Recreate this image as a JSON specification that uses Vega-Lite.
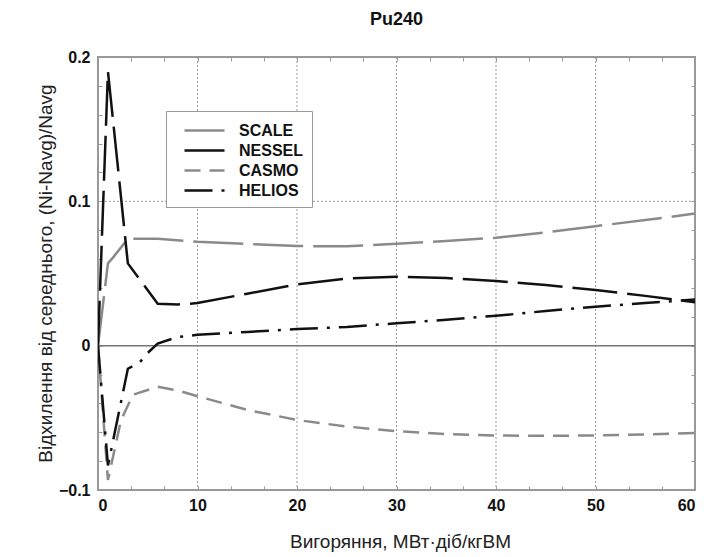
{
  "$schema": "https://vega.github.io/schema/vega-lite/v6.json",
  "width": 597,
  "height": 433,
  "autosize": {"type": "none"},
  "padding": {"left": 98, "top": 57, "right": 11, "bottom": 67},
  "background": "white",
  "title": {"text": "Pu240", "frame": "group", "anchor": "middle", "fontSize": 18, "fontWeight": "bold", "font": "Liberation Sans", "color": "#111", "offset": 20},
  "config": {
    "view": {"stroke": "#999", "strokeWidth": 2},
    "font": "Liberation Sans"
  },
  "datasets": {
    "curves": [
      {"series": "SCALE", "x": 0, "y": 0},
      {"series": "SCALE", "x": 1, "y": 0.057},
      {"series": "SCALE", "x": 1.5, "y": 0.061},
      {"series": "SCALE", "x": 3, "y": 0.074},
      {"series": "SCALE", "x": 6, "y": 0.074},
      {"series": "SCALE", "x": 10, "y": 0.072},
      {"series": "SCALE", "x": 15, "y": 0.0705},
      {"series": "SCALE", "x": 20, "y": 0.069},
      {"series": "SCALE", "x": 25, "y": 0.0688},
      {"series": "SCALE", "x": 30, "y": 0.0706},
      {"series": "SCALE", "x": 35, "y": 0.0725},
      {"series": "SCALE", "x": 40, "y": 0.0748},
      {"series": "SCALE", "x": 45, "y": 0.0785},
      {"series": "SCALE", "x": 50, "y": 0.0828},
      {"series": "SCALE", "x": 55, "y": 0.087},
      {"series": "SCALE", "x": 60, "y": 0.0915},
      {"series": "NESSEL", "x": 0, "y": 0},
      {"series": "NESSEL", "x": 1, "y": 0.19},
      {"series": "NESSEL", "x": 3, "y": 0.057},
      {"series": "NESSEL", "x": 6, "y": 0.029},
      {"series": "NESSEL", "x": 8, "y": 0.0285},
      {"series": "NESSEL", "x": 10, "y": 0.0295},
      {"series": "NESSEL", "x": 15, "y": 0.036},
      {"series": "NESSEL", "x": 20, "y": 0.0425},
      {"series": "NESSEL", "x": 25, "y": 0.0465},
      {"series": "NESSEL", "x": 30, "y": 0.0478},
      {"series": "NESSEL", "x": 35, "y": 0.0468},
      {"series": "NESSEL", "x": 40, "y": 0.0448},
      {"series": "NESSEL", "x": 45, "y": 0.042},
      {"series": "NESSEL", "x": 50, "y": 0.0385},
      {"series": "NESSEL", "x": 55, "y": 0.0345},
      {"series": "NESSEL", "x": 60, "y": 0.03},
      {"series": "CASMO", "x": 0, "y": 0},
      {"series": "CASMO", "x": 1, "y": -0.093},
      {"series": "CASMO", "x": 2.3, "y": -0.052},
      {"series": "CASMO", "x": 3.5, "y": -0.034},
      {"series": "CASMO", "x": 6, "y": -0.0285},
      {"series": "CASMO", "x": 8, "y": -0.031},
      {"series": "CASMO", "x": 10, "y": -0.035},
      {"series": "CASMO", "x": 15, "y": -0.0445},
      {"series": "CASMO", "x": 20, "y": -0.0515},
      {"series": "CASMO", "x": 25, "y": -0.056},
      {"series": "CASMO", "x": 30, "y": -0.0593},
      {"series": "CASMO", "x": 35, "y": -0.0612},
      {"series": "CASMO", "x": 40, "y": -0.0622},
      {"series": "CASMO", "x": 45, "y": -0.0625},
      {"series": "CASMO", "x": 50, "y": -0.0622},
      {"series": "CASMO", "x": 55, "y": -0.0615},
      {"series": "CASMO", "x": 60, "y": -0.0605},
      {"series": "HELIOS", "x": 0, "y": 0},
      {"series": "HELIOS", "x": 1, "y": -0.083},
      {"series": "HELIOS", "x": 3, "y": -0.016},
      {"series": "HELIOS", "x": 4.2, "y": -0.0115},
      {"series": "HELIOS", "x": 5, "y": -0.005},
      {"series": "HELIOS", "x": 6, "y": 0.0015},
      {"series": "HELIOS", "x": 8, "y": 0.006},
      {"series": "HELIOS", "x": 10, "y": 0.0075},
      {"series": "HELIOS", "x": 15, "y": 0.0095},
      {"series": "HELIOS", "x": 20, "y": 0.0115},
      {"series": "HELIOS", "x": 25, "y": 0.013},
      {"series": "HELIOS", "x": 30, "y": 0.0155},
      {"series": "HELIOS", "x": 35, "y": 0.018},
      {"series": "HELIOS", "x": 40, "y": 0.0207},
      {"series": "HELIOS", "x": 45, "y": 0.024},
      {"series": "HELIOS", "x": 50, "y": 0.027},
      {"series": "HELIOS", "x": 55, "y": 0.0295},
      {"series": "HELIOS", "x": 60, "y": 0.032}
    ]
  },
  "resolve": {"axis": {"x": "independent", "y": "independent"}},
  "layer": [
    {
      "data": {"values": [{"gx": 10}, {"gx": 20}, {"gx": 30}, {"gx": 40}, {"gx": 50}]},
      "mark": {"type": "rule", "color": "#999", "strokeWidth": 1, "strokeDash": [2, 2]},
      "encoding": {
        "x": {"field": "gx", "type": "quantitative", "scale": {"domain": [0, 60], "nice": false, "zero": false},
          "axis": {"orient": "top", "title": null, "labels": false, "grid": false, "domain": false,
            "values": [0, 3.3333, 6.6667, 10, 13.3333, 16.6667, 20, 23.3333, 26.6667, 30, 33.3333, 36.6667, 40, 43.3333, 46.6667, 50, 53.3333, 56.6667, 60],
            "tickSize": -4, "tickColor": "#999", "tickWidth": 1}}
      }
    },
    {
      "data": {"values": [{"gy": 0.1}]},
      "mark": {"type": "rule", "color": "#999", "strokeWidth": 1, "strokeDash": [2, 2]},
      "encoding": {
        "y": {"field": "gy", "type": "quantitative", "scale": {"domain": [-0.1, 0.2], "nice": false, "zero": false},
          "axis": {"orient": "right", "title": null, "labels": false, "grid": false, "domain": false,
            "values": [-0.1, -0.08, -0.06, -0.04, -0.02, 0, 0.02, 0.04, 0.06, 0.08, 0.1, 0.12, 0.14, 0.16, 0.18, 0.2],
            "tickSize": -4, "tickColor": "#999", "tickWidth": 1}}
      }
    },
    {
      "data": {"values": [{"zy": 0}]},
      "mark": {"type": "rule", "color": "#777", "strokeWidth": 1.5},
      "encoding": {
        "y": {"field": "zy", "type": "quantitative", "axis": null}
      }
    },
    {
      "data": {"name": "curves"},
      "mark": {"type": "line", "strokeWidth": 2.5, "clip": true},
      "encoding": {
        "x": {"field": "x", "type": "quantitative",
          "axis": {"orient": "bottom", "title": "Вигоряння, МВт·діб/кгВМ", "grid": false, "domain": false,
            "values": [0, 3.3333, 6.6667, 10, 13.3333, 16.6667, 20, 23.3333, 26.6667, 30, 33.3333, 36.6667, 40, 43.3333, 46.6667, 50, 53.3333, 56.6667, 60],
            "labelExpr": "abs(datum.value/10 - round(datum.value/10)) < 0.001 ? format(datum.value, 'd') : ''",
            "tickSize": -4, "tickColor": "#999", "tickWidth": 1, "labelPadding": 11,
            "labelFont": "Liberation Sans", "labelFontSize": 16, "labelFontWeight": "bold", "labelColor": "#111",
            "titleFont": "Liberation Sans", "titleFontSize": 19, "titleFontWeight": "normal", "titleColor": "#222",
            "titleX": 302, "titleY": 51, "titleBaseline": "middle"}},
        "y": {"field": "y", "type": "quantitative",
          "axis": {"orient": "left", "title": "Відхилення від середнього, (Ni-Navg)/Navg", "grid": false, "domain": false,
            "values": [-0.1, -0.08, -0.06, -0.04, -0.02, 0, 0.02, 0.04, 0.06, 0.08, 0.1, 0.12, 0.14, 0.16, 0.18, 0.2],
            "labelExpr": "abs(datum.value*10 - round(datum.value*10)) < 0.001 ? (datum.value == 0 ? '0' : format(datum.value, '.1f')) : ''",
            "tickSize": -4, "tickColor": "#999", "tickWidth": 1, "labelPadding": 12,
            "labelFont": "Liberation Sans", "labelFontSize": 16, "labelFontWeight": "bold", "labelColor": "#111",
            "titleFont": "Liberation Sans", "titleFontSize": 19, "titleFontWeight": "normal", "titleColor": "#222",
            "titleX": -53, "titleY": 216, "titleBaseline": "middle", "titleAngle": -90}},
        "color": {"field": "series", "type": "nominal",
          "scale": {"domain": ["SCALE", "NESSEL", "CASMO", "HELIOS"], "range": ["#8a8a8a", "#111111", "#8a8a8a", "#111111"]},
          "legend": {"orient": "none", "legendX": 68, "legendY": 54, "title": null, "symbolType": "M-0.1,0H3.9", "symbolSize": 400, "symbolStrokeWidth": 2.5,
            "labelFont": "Liberation Sans", "labelFontSize": 16, "labelFontWeight": "bold", "labelColor": "#111", "labelOffset": 42,
            "strokeColor": "#999", "fillColor": "white", "padding": 8, "rowPadding": -1}},
        "strokeDash": {"field": "series", "type": "nominal",
          "scale": {"domain": ["SCALE", "NESSEL", "CASMO", "HELIOS"], "range": [[50, 10], [45, 10], [16, 9], [28, 9, 3, 9]]},
          "legend": {"orient": "none", "legendX": 68, "legendY": 54, "title": null, "symbolType": "M-0.1,0H3.9", "symbolSize": 400, "symbolStrokeWidth": 2.5,
            "labelFont": "Liberation Sans", "labelFontSize": 16, "labelFontWeight": "bold", "labelColor": "#111", "labelOffset": 42,
            "strokeColor": "#999", "fillColor": "white", "padding": 8, "rowPadding": -1}},
        "order": {"field": "x", "type": "quantitative"}
      }
    }
  ]
}
